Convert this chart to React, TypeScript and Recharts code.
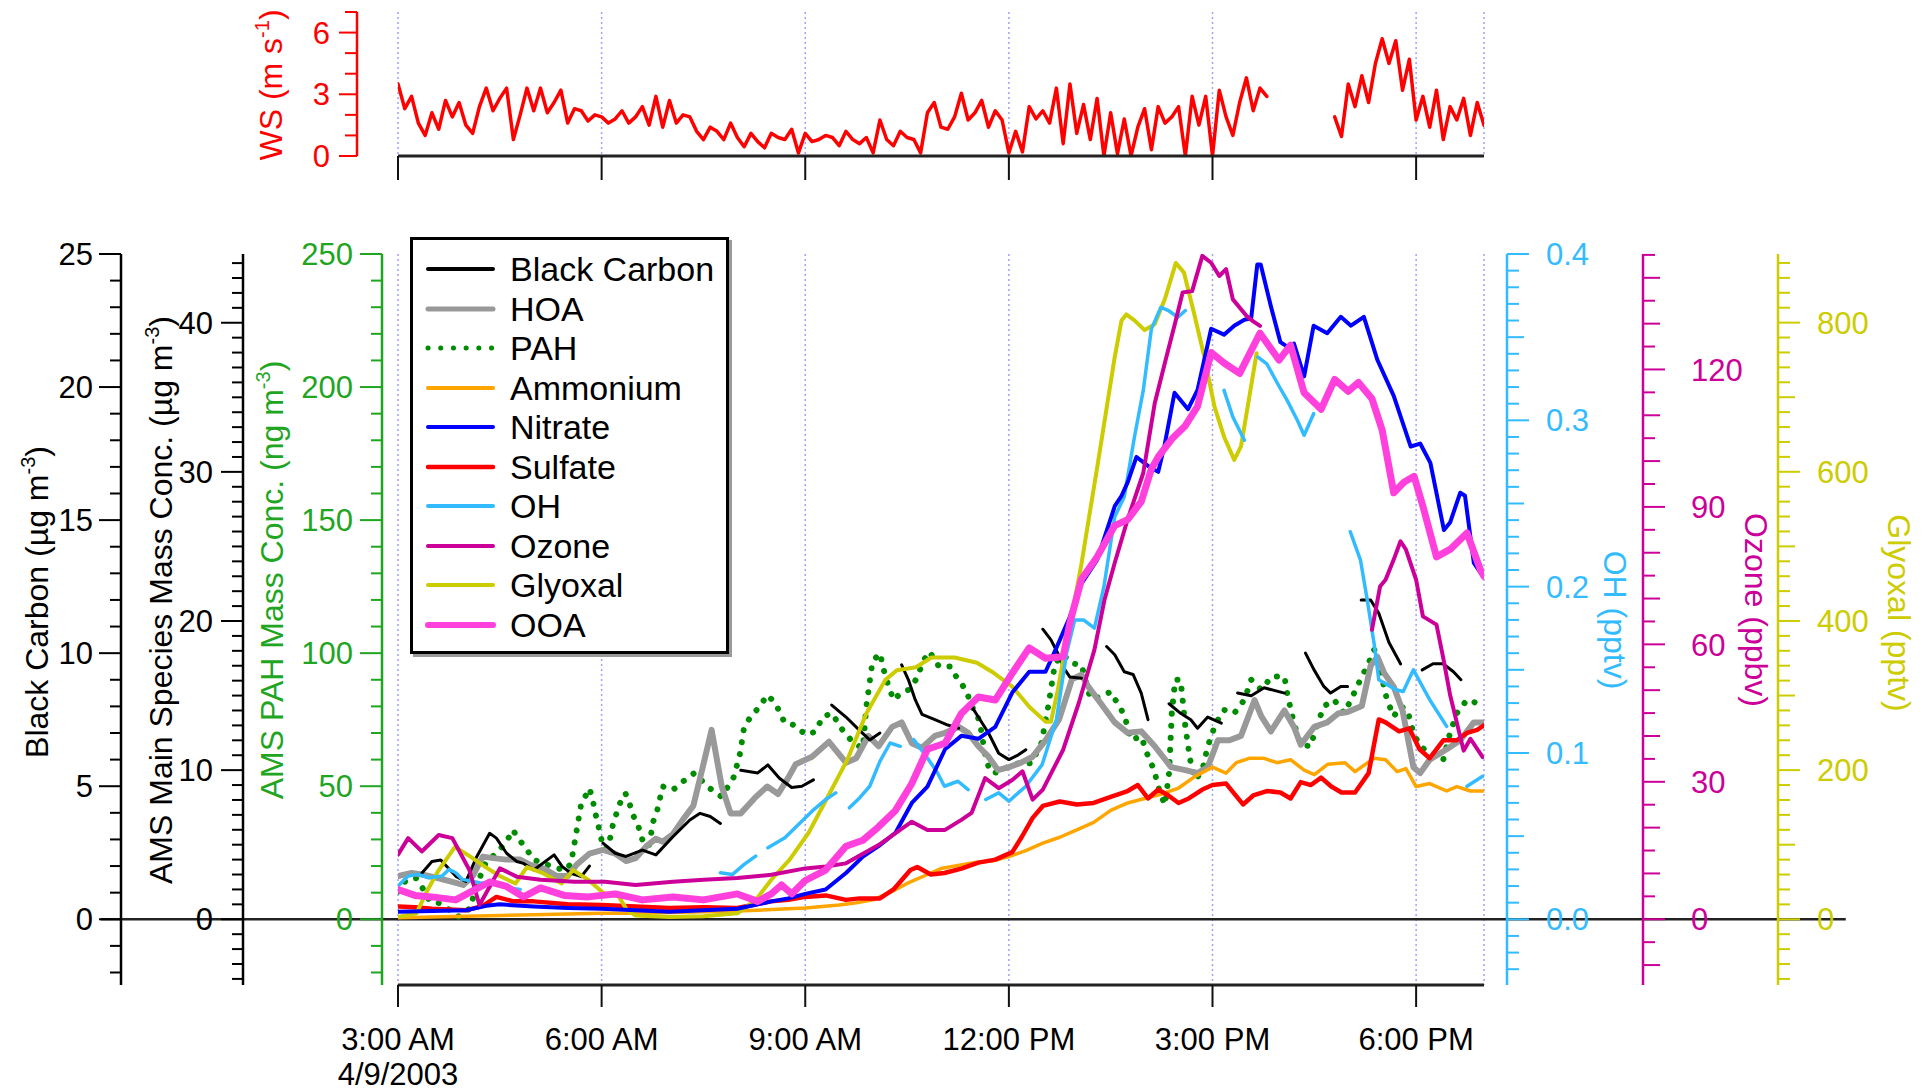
import React from "react";
import { LineChart, Line, XAxis, YAxis, CartesianGrid, ReferenceLine } from "recharts";

type Pt = [number, number | null];

const FONT = "'Liberation Sans', Arial, Helvetica, sans-serif";

// ---- time axis (decimal hours, 4/9/2003) ----
const hourTicks = [3, 6, 9, 12, 15, 18];
const hourLabels = ["3:00 AM", "6:00 AM", "9:00 AM", "12:00 PM", "3:00 PM", "6:00 PM"];
const dateLabel = "4/9/2003";

// ---- wind speed (m/s), 6-min samples starting 3:00 ----
const wsValues: (number | null)[] = [
  3.5, 2.3, 2.9, 1.6, 1.0, 2.1, 1.3, 2.7, 1.9, 2.6,
  1.5, 1.1, 2.4, 3.3, 2.2, 2.8, 3.3, 0.8, 2.0, 3.3,
  2.2, 3.3, 2.1, 2.6, 3.2, 1.6, 2.3, 2.2, 1.7, 2.0,
  1.9, 1.6, 1.8, 2.2, 1.6, 1.9, 2.4, 1.5, 2.9, 1.4,
  2.7, 1.6, 2.0, 1.9, 1.2, 0.8, 1.4, 1.2, 0.8, 1.6,
  0.9, 0.45, 1.1, 0.7, 0.4, 1.1, 0.9, 0.8, 1.3, 0.15,
  1.1, 0.7, 0.8, 1.0, 0.9, 0.5, 1.2, 0.8, 0.6, 0.9,
  0.15, 1.75, 0.8, 0.5, 1.2, 0.9, 0.8, 0.15, 2.1, 2.6,
  1.4, 1.3, 1.9, 3.05, 1.75, 2.1, 2.7, 1.4, 2.2, 1.75,
  0.15, 1.2, 0.2, 2.4, 1.8, 2.2, 1.6, 3.3, 0.6, 3.5,
  1.1, 2.5, 0.8, 2.8, 0.0, 2.1, 0.1, 1.8, 0.0, 1.4,
  2.3, 0.3, 2.4, 1.6, 1.9, 2.4, 0.0, 2.9, 1.5, 2.9,
  0.0, 3.2, 1.9, 1.0, 2.6, 3.8, 2.2, 3.3, 2.9, null,
  null, null, null, null, null, null, null, null, 1.9, 0.95,
  3.5, 2.4, 3.9, 2.6, 4.5, 5.7, 4.5, 5.6, 3.2, 4.7,
  1.75, 2.9, 1.4, 3.2, 0.8, 2.4, 1.75, 2.8, 1.0, 2.6,
  1.5,
];

// ---- main panel series: [hour, value], null = no data ----
const blackCarbon: Pt[] = [
  [3.35, 1.73], [3.5, 2.17], [3.63, 2.23], [3.75, 1.9], [3.86, 1.6], [4.0, 1.42], [4.15, 2.3], [4.35, 3.23],
  [4.45, 3.05], [4.6, 2.48], [4.75, 2.17], [4.85, 2.1], [5.0, 1.85], [5.3, 2.42], [5.42, 1.98], [5.55, 1.73],
  [5.7, 1.6], [5.82, 2.0], [5.92, null],
  [6.02, 2.86], [6.2, 2.48], [6.36, 2.36], [6.6, 2.6], [6.8, 2.42], [7.05, 3.1], [7.3, 3.73], [7.45, 3.98],
  [7.6, 3.86], [7.75, 3.6], [7.9, null],
  [8.05, 5.6], [8.3, 5.5], [8.45, 5.8], [8.62, 5.3], [8.8, 4.95], [8.95, 5.0], [9.12, 5.24], [9.25, null],
  [9.39, 8.05], [9.6, 7.6], [9.8, 7.1], [9.95, 6.74], [10.1, 7.0], [10.25, null],
  [10.42, 9.56], [10.52, 9.0], [10.62, 8.25], [10.72, 7.7], [10.91, 7.5], [11.1, 7.3], [11.26, 7.18], [11.35, null],
  [11.45, 8.0], [11.55, 7.6], [11.7, 7.0], [11.85, 6.24], [12.0, 6.0], [12.14, 6.18], [12.25, 6.37], [12.4, null],
  [12.5, 10.9], [12.62, 10.5], [12.72, 10.0], [12.82, 9.4], [12.9, 9.1], [13.07, 9.06], [13.25, null],
  [13.44, 10.25], [13.56, 9.94], [13.7, 9.3], [13.83, 9.2], [13.95, 8.5], [14.05, 7.5], [14.2, null],
  [14.36, 8.1], [14.53, 7.74], [14.68, 7.5], [14.78, 7.18], [14.93, 7.6], [15.13, 7.37], [15.25, null],
  [15.37, 8.5], [15.57, 8.4], [15.76, 8.7], [16.06, 8.5], [16.2, null],
  [16.37, 10.0], [16.49, 9.4], [16.64, 8.75], [16.74, 8.5], [16.89, 8.75], [16.99, 8.75], [17.1, null],
  [17.19, 12.0], [17.33, 12.0], [17.45, 11.5], [17.6, 10.4], [17.77, 9.6], [17.95, null],
  [18.09, 9.37], [18.25, 9.6], [18.4, 9.6], [18.55, 9.3], [18.66, 9.0],
];

const hoa: Pt[] = [
  [3, 2.9], [3.2, 3.1], [3.35, 3.0], [3.6, 2.75], [3.8, 2.5], [3.96, 2.3], [4.1, 2.9], [4.25, 4.2], [4.4, 4.1],
  [4.6, 4.0], [4.8, 4.0], [4.95, 3.65], [5.15, 3.4], [5.34, 2.9], [5.5, 2.9], [5.63, 3.65], [5.82, 4.4],
  [6.02, 4.65], [6.2, 4.4], [6.36, 3.9], [6.5, 4.1], [6.66, 4.9], [6.8, 5.4], [6.9, 5.2], [7.05, 5.7],
  [7.2, 6.7], [7.35, 7.6], [7.49, 10.2], [7.62, 12.7], [7.77, 8.9], [7.9, 7.1], [8.05, 7.1], [8.27, 8.2],
  [8.44, 8.9], [8.6, 8.4], [8.75, 9.5], [8.86, 10.4], [9.1, 10.9], [9.35, 11.9], [9.6, 10.5], [9.75, 10.8],
  [9.93, 12.3], [10.08, 11.6], [10.28, 12.9], [10.42, 13.2], [10.57, 11.8], [10.72, 11.5], [10.91, 12.3],
  [11.06, 12.5], [11.26, 12.9], [11.4, 12.5], [11.55, 11.6], [11.7, 10.9], [11.84, 10.0], [12.0, 10.2],
  [12.18, 10.5], [12.35, 10.9], [12.54, 12.0], [12.74, 13.4], [12.93, 16.1], [13.07, 16.4], [13.17, 15.6],
  [13.35, 14.5], [13.56, 13.2], [13.75, 12.5], [13.95, 12.6], [14.15, 11.6], [14.39, 10.2], [14.6, 10.0],
  [14.78, 9.8], [14.93, 10.2], [15.08, 12.0], [15.25, 12.0], [15.42, 12.3], [15.62, 14.7], [15.72, 13.6],
  [15.86, 12.6], [16.06, 14.0], [16.2, 12.9], [16.3, 11.7], [16.5, 12.9], [16.69, 13.2], [16.85, 13.8],
  [16.99, 13.9], [17.2, 14.3], [17.33, 17.0], [17.43, 17.6], [17.53, 16.5], [17.67, 15.6], [17.8, 14.0],
  [17.96, 10.2], [18.06, 9.8], [18.2, 10.7], [18.45, 11.4], [18.65, 12.0], [18.85, 13.2], [19, 13.2],
];

const pah: Pt[] = [
  [3.0, 10.4], [3.12, 14.8], [3.27, 15.4], [3.38, 11], [3.47, 6.6], [3.62, 6.0], [3.76, 3.5], [3.89, 1.0],
  [4.06, 4.1], [4.16, 12.9], [4.3, 21.7], [4.45, 24.8], [4.6, 29.2], [4.69, 33.6], [4.79, 29.8], [4.9, 26.1],
  [5.0, 22.3], [5.15, 21], [5.33, 19.2], [5.47, 18.5], [5.55, 21], [5.6, 28.6], [5.65, 36.1], [5.7, 43.6],
  [5.77, 46.7], [5.82, 49.2], [5.87, 44.9], [5.9, 40.5], [5.94, 36.7], [5.98, 31.7], [6.03, 26.7], [6.09, 26.7],
  [6.13, 31], [6.17, 36], [6.22, 39.8], [6.27, 43.6], [6.35, 47.4], [6.41, 43.6], [6.46, 39.2], [6.53, 36],
  [6.59, 30.5], [6.65, 27.3], [6.7, 28], [6.76, 36.7], [6.82, 41], [6.9, 49.9], [7.05, 48.6], [7.2, 51.8],
  [7.37, 55], [7.55, 50], [7.77, 46], [7.95, 53.6], [8.04, 62.4], [8.1, 72.4], [8.2, 76.2], [8.33, 80],
  [8.44, 84.3], [8.56, 81.2], [8.7, 73.7], [8.84, 73], [9.01, 69.3], [9.15, 70.5], [9.26, 76.2], [9.4, 77.4],
  [9.51, 72.4], [9.71, 66.2], [9.85, 64.3], [9.9, 80], [9.99, 96.8], [10.1, 100], [10.18, 91.2], [10.3, 82.4],
  [10.41, 85], [10.52, 86.2], [10.63, 90], [10.75, 97.5], [10.83, 100.6], [10.97, 95], [11.14, 95], [11.25, 90],
  [11.37, 86.2], [11.45, 80], [11.53, 77.4], [11.59, 71.2], [11.65, 62], [11.72, 55.5], [11.84, 55],
  [11.99, 57.4], [12.14, 58.6], [12.33, 58.6], [12.48, 66.2], [12.58, 80], [12.68, 96.2], [12.8, 99.5],
  [12.92, 96.2], [13.07, 95.6], [13.2, 83], [13.36, 83.7], [13.5, 85.5], [13.7, 76.8], [13.8, 67.4],
  [13.95, 68.7], [14.04, 62], [14.14, 56], [14.22, 48], [14.3, 43], [14.36, 55], [14.4, 77.4], [14.45, 90],
  [14.53, 90], [14.6, 72.4], [14.67, 60], [14.75, 52.4], [14.85, 56], [14.93, 65], [15.05, 73.7], [15.17, 78.7],
  [15.32, 77.4], [15.47, 82.5], [15.57, 90], [15.72, 86.2], [15.87, 91.2], [16.06, 91.2], [16.11, 83.7],
  [16.2, 73.7], [16.3, 65.5], [16.45, 65], [16.5, 70], [16.64, 80], [16.79, 82.5], [16.94, 77.4], [17.04, 82.5],
  [17.2, 91.2], [17.3, 96.2], [17.38, 101.3], [17.43, 100], [17.47, 93.7], [17.57, 82.5], [17.67, 76.2],
  [17.77, 80], [17.87, 78.7], [17.96, 70], [18.06, 65], [18.2, 62.4], [18.3, 60], [18.4, 60], [18.5, 70],
  [18.6, 77.4], [18.75, 82.5], [18.9, 81.2], [18.98, 82.5],
];

const ammonium: Pt[] = [
  [3, 0.1], [3.5, 0.15], [4, 0.2], [4.5, 0.25], [5, 0.3], [5.5, 0.35], [6, 0.4], [6.5, 0.4], [7, 0.45],
  [7.5, 0.5], [8, 0.55], [8.5, 0.65], [9, 0.75], [9.25, 0.85], [9.5, 0.95], [9.75, 1.1], [10, 1.3],
  [10.25, 1.8], [10.5, 2.4], [10.75, 2.9], [11, 3.4], [11.25, 3.6], [11.5, 3.8], [11.75, 3.9], [12, 4.2],
  [12.25, 4.6], [12.5, 5.1], [12.75, 5.5], [13, 6.0], [13.25, 6.5], [13.5, 7.3], [13.75, 7.8], [14, 8.1],
  [14.25, 8.4], [14.5, 8.8], [14.75, 9.6], [15, 10.2], [15.2, 9.8], [15.35, 10.5], [15.55, 10.8],
  [15.75, 10.8], [15.95, 10.5], [16.15, 10.7], [16.35, 10.0], [16.5, 9.7], [16.7, 10.4], [16.95, 10.5],
  [17.1, 9.9], [17.38, 10.8], [17.55, 10.7], [17.72, 9.9], [17.85, 10.1], [18, 8.9], [18.2, 9.1],
  [18.45, 8.6], [18.6, 8.9], [18.8, 8.6], [19, 8.6],
];

const nitrate: Pt[] = [
  [3, 0.5], [3.5, 0.55], [4, 0.6], [4.3, 0.9], [4.5, 1.0], [5, 0.85], [5.5, 0.75], [6, 0.7], [6.5, 0.6],
  [7, 0.5], [7.5, 0.6], [8, 0.7], [8.5, 1.2], [8.75, 1.4], [9, 1.7], [9.3, 2.0], [9.6, 3.1], [9.85, 4.2],
  [10.08, 4.9], [10.33, 5.8], [10.57, 7.8], [10.8, 8.9], [11.06, 11.4], [11.3, 12.3], [11.55, 12.1],
  [11.8, 12.9], [12.05, 15.2], [12.3, 16.6], [12.54, 16.6], [12.7, 18.2], [12.9, 20.3], [13.07, 22.5],
  [13.3, 24.1], [13.56, 27.7], [13.66, 28.4], [13.75, 29.3], [13.88, 31.0], [14.05, 30.4], [14.2, 30.0],
  [14.29, 31.7], [14.44, 35.3], [14.64, 34.2], [14.78, 35.5], [14.98, 39.6], [15.17, 39.2], [15.32, 39.8],
  [15.47, 40.2], [15.57, 40.3], [15.66, 43.9], [15.71, 43.9], [15.86, 41.1], [16.0, 38.7], [16.1, 38.4],
  [16.2, 38.6], [16.35, 36.4], [16.49, 39.8], [16.69, 39.3], [16.89, 40.4], [17.04, 39.8], [17.23, 40.4],
  [17.43, 37.5], [17.67, 35.1], [17.92, 31.7], [18.06, 31.9], [18.21, 30.6], [18.41, 26.1], [18.5, 26.6],
  [18.65, 28.6], [18.72, 28.4], [18.85, 23.9], [18.97, 23.1],
];

const sulfate: Pt[] = [
  [3, 0.85], [3.25, 0.8], [3.5, 0.7], [3.75, 0.65], [4, 0.6], [4.25, 0.9], [4.45, 1.5], [4.7, 1.2], [5, 1.2],
  [5.5, 1.0], [6, 0.95], [6.5, 0.85], [7, 0.75], [7.5, 0.8], [8, 0.75], [8.5, 1.2], [8.75, 1.3], [9, 1.5],
  [9.3, 1.6], [9.6, 1.3], [9.8, 1.4], [10.1, 1.4], [10.3, 2.0], [10.55, 3.3], [10.65, 3.5], [10.85, 3.0],
  [11.05, 3.1], [11.3, 3.4], [11.55, 3.8], [11.8, 4.0], [12.05, 4.5], [12.2, 5.6], [12.35, 6.8], [12.5, 7.6],
  [12.75, 7.9], [13.0, 7.7], [13.25, 7.8], [13.5, 8.2], [13.75, 8.6], [13.9, 9.0], [14.05, 8.1], [14.2, 8.7],
  [14.35, 8.3], [14.5, 7.8], [14.65, 8.1], [14.85, 8.7], [15.0, 9.0], [15.2, 9.1], [15.45, 7.7], [15.6, 8.3],
  [15.8, 8.6], [16.0, 8.5], [16.15, 8.1], [16.3, 9.2], [16.45, 9.0], [16.6, 9.5], [16.75, 8.9], [16.9, 8.5],
  [17.1, 8.5], [17.3, 9.8], [17.45, 13.4], [17.55, 13.2], [17.75, 12.6], [17.9, 12.8], [18.05, 11.4],
  [18.2, 10.8], [18.4, 12.0], [18.6, 12.0], [18.75, 12.5], [18.9, 12.7], [19, 13.0],
];

const oh: Pt[] = [
  [3.0, 0.02], [3.15, 0.026], [3.3, 0.027], [3.45, 0.025], [3.65, 0.026], [3.75, 0.03], [3.85, 0.028],
  [3.95, 0.024], [4.2, 0.022], [4.45, 0.021], [4.6, 0.019], [4.8, 0.018], [4.9, null],
  [7.75, 0.028], [7.93, 0.027], [8.1, 0.033], [8.27, 0.038], [8.35, null],
  [8.45, 0.043], [8.7, 0.049], [8.9, 0.057], [9.1, 0.065], [9.3, 0.072], [9.45, 0.076], [9.55, null],
  [9.65, 0.067], [9.8, 0.073], [9.95, 0.08], [10.1, 0.095], [10.25, 0.106], [10.4, 0.104], [10.5, null],
  [10.6, 0.108], [10.8, 0.097], [10.95, 0.088], [11.05, 0.08], [11.25, 0.083], [11.4, 0.078], [11.55, null],
  [11.66, 0.072], [11.85, 0.076], [12.0, 0.071], [12.25, 0.08], [12.49, 0.093], [12.7, 0.12], [12.85, 0.16],
  [12.97, 0.18], [13.1, 0.18], [13.26, 0.175], [13.4, 0.2], [13.56, 0.242], [13.7, 0.254], [13.85, 0.29],
  [13.98, 0.318], [14.1, 0.355], [14.24, 0.368], [14.35, 0.366], [14.49, 0.362], [14.6, 0.366], [14.75, null],
  [15.17, 0.318], [15.3, 0.302], [15.47, 0.288], [15.55, null],
  [15.67, 0.338], [15.8, 0.334], [15.96, 0.322], [16.1, 0.312], [16.25, 0.3], [16.35, 0.291], [16.49, 0.304],
  [16.7, null],
  [17.03, 0.233], [17.18, 0.216], [17.28, 0.192], [17.38, 0.166], [17.45, 0.144], [17.7, 0.138], [17.81, 0.137],
  [17.96, 0.15], [18.2, 0.132], [18.45, 0.116], [18.6, null],
  [18.75, 0.08], [18.98, 0.086],
];

const ozone: Pt[] = [
  [3, 14.1], [3.15, 17.7], [3.35, 14.8], [3.6, 18.4], [3.8, 17.7], [4.05, 10.8], [4.2, 3.1], [4.35, 7.1],
  [4.5, 11.1], [4.75, 9.3], [5.1, 8.6], [5.6, 8.2], [6.05, 8.2], [6.5, 7.5], [7.05, 8.2], [7.5, 8.6], [8.0, 9.0],
  [8.5, 9.7], [9.0, 11.1], [9.3, 11.5], [9.6, 12.2], [10.08, 16.2], [10.57, 21.3], [10.8, 19.5], [11.06, 19.5],
  [11.3, 21.7], [11.45, 23.2], [11.65, 30.8], [11.85, 28.6], [12.05, 30.4], [12.2, 32.3], [12.35, 26.1],
  [12.5, 28.3], [12.8, 37.0], [13.03, 47.2], [13.26, 58.8], [13.41, 69.8], [13.56, 77.8], [13.75, 87.3],
  [13.98, 97.4], [14.15, 112.7], [14.3, 121.5], [14.45, 130.2], [14.56, 136.8], [14.7, 137.1], [14.85, 144.8],
  [14.98, 143.3], [15.1, 140.4], [15.2, 141.9], [15.3, 135.3], [15.5, 131.7], [15.6, 130.5], [15.7, 129.5],
  [15.75, null],
  [17.35, 63.2], [17.47, 72.7], [17.55, 74.1], [17.67, 78.5], [17.77, 82.5], [17.85, 80.7], [18.0, 74.1],
  [18.1, 66.1], [18.3, 64.3], [18.4, 57], [18.5, 49], [18.7, 36.8], [18.8, 39.4], [18.98, 35.4],
];

const glyoxal: Pt[] = [
  [3, 3], [3.27, 8], [3.44, 40], [3.6, 66], [3.84, 97], [4.05, 85], [4.29, 70], [4.5, 58], [4.73, 48],
  [4.9, 70], [5.13, 62], [5.41, 48], [5.58, 66], [5.8, 53], [6.03, 35], [6.25, 31], [6.37, 13], [6.5, 5],
  [7.0, 3], [7.5, 4], [8.0, 8], [8.27, 26], [8.5, 53], [8.77, 80], [9.05, 116], [9.33, 164], [9.62, 214],
  [9.9, 276], [10.18, 321], [10.35, 334], [10.63, 338], [10.86, 351], [11.2, 351], [11.53, 344], [11.75, 332],
  [12.05, 312], [12.3, 285], [12.54, 265], [12.62, 265], [12.72, 307], [12.87, 384], [12.97, 428],
  [13.07, 477], [13.31, 611], [13.56, 754], [13.66, 803], [13.73, 811], [13.85, 803], [14.0, 790],
  [14.15, 798], [14.3, 832], [14.46, 880], [14.58, 867], [14.73, 812], [14.88, 754], [15.03, 687],
  [15.17, 647], [15.32, 616], [15.42, 634], [15.56, 710], [15.65, 759],
];

const ooa: Pt[] = [
  [3, 2.0], [3.25, 1.6], [3.5, 1.5], [3.85, 1.3], [4.1, 1.9], [4.35, 2.5], [4.6, 2.2], [4.85, 1.5], [5.1, 2.1],
  [5.45, 1.6], [5.8, 1.5], [6.2, 1.7], [6.6, 1.3], [7.05, 1.5], [7.5, 1.3], [8.0, 1.7], [8.3, 1.2], [8.5, 1.7],
  [8.65, 2.3], [8.8, 1.7], [9.0, 2.6], [9.3, 3.3], [9.6, 4.9], [9.85, 5.3], [10.08, 6.2], [10.33, 7.3],
  [10.57, 9.1], [10.8, 11.4], [11.06, 11.8], [11.3, 13.8], [11.55, 14.9], [11.8, 14.7], [12.05, 16.5],
  [12.3, 18.2], [12.54, 17.5], [12.8, 17.6], [12.9, 19.9], [13.07, 22.8], [13.3, 24.3], [13.56, 26.4],
  [13.75, 26.8], [13.95, 28.0], [14.1, 30.2], [14.2, 31.0], [14.4, 32.2], [14.6, 33.1], [14.78, 34.4],
  [14.98, 38.0], [15.17, 37.3], [15.4, 36.6], [15.7, 39.3], [15.98, 37.5], [16.15, 38.5], [16.35, 35.3],
  [16.6, 34.2], [16.8, 36.2], [17.0, 35.4], [17.15, 36.0], [17.35, 34.9], [17.5, 32.8], [17.67, 28.6],
  [17.82, 29.3], [17.97, 29.7], [18.1, 27.7], [18.3, 24.3], [18.5, 24.8], [18.75, 25.9], [18.95, 23.4], [19, 23.0],
];

// ---- axis ranges ----
const bcDomain = [-2.47, 25];
const amsDomain = [-4.408, 44.61];
const pahDomain = [-24.7, 250];
const ohDomain = [-0.0395, 0.4];
const ozoneDomain = [-14.35, 145.2];
const glyoxalDomain = [-88.1, 892];

const toRows = (pts: Pt[]) => pts.map(([t, v]) => ({ t, v }));
const wsRows = wsValues.map((v, i) => ({ t: 3 + i * 0.1, v }));

const steps = (a: number, b: number, s: number) => {
  const out: number[] = [];
  for (let i = 0; a + i * s <= b + 1e-9; i++) out.push(+(a + i * s).toFixed(4));
  return out;
};

// y-axis ids: recharts stacks same-side axes in id order, first one next to the plot
const AX = {
  padL: "L1pad",
  pah: "L2pah",
  ams: "L3ams",
  bc: "L4bc",
  padR: "R1pad",
  oh: "R2oh",
  ozone: "R3ozone",
  glyoxal: "R4glyoxal",
  wsPad: "A1pad",
  ws: "A2ws",
};

const COLORS = {
  bc: "#000000",
  hoa: "#999999",
  pah: "#008c00",
  pahAxis: "#1fa51f",
  ammonium: "#ffa500",
  nitrate: "#0000ff",
  sulfate: "#ff0000",
  oh: "#33bbff",
  ozone: "#cc0099",
  glyoxal: "#cccc00",
  ooa: "#ff40dc",
  ws: "#ff0000",
  grid: "#a0a0ff",
};

const legendItems = [
  { name: "Black Carbon", color: COLORS.bc, lw: 4 },
  { name: "HOA", color: COLORS.hoa, lw: 5 },
  { name: "PAH", color: COLORS.pah, lw: 5, dash: "0.1 12.6" },
  { name: "Ammonium", color: COLORS.ammonium, lw: 4 },
  { name: "Nitrate", color: COLORS.nitrate, lw: 4 },
  { name: "Sulfate", color: COLORS.sulfate, lw: 4.5 },
  { name: "OH", color: COLORS.oh, lw: 4 },
  { name: "Ozone", color: COLORS.ozone, lw: 4 },
  { name: "Glyoxal", color: COLORS.glyoxal, lw: 4 },
  { name: "OOA", color: COLORS.ooa, lw: 6 },
];

// ---- ticks ----
type TickStyle = {
  side: "left" | "right";
  color: string;
  text: string;
  len: (v: number) => number;
  major: (v: number) => boolean;
  gap: number;
  fmt?: (v: number) => string;
};

const makeTick = (s: TickStyle) => (p: any) => {
  const v = p.payload.value as number;
  const dir = s.side === "left" ? -1 : 1;
  return (
    <g>
      <line x1={p.x} y1={p.y} x2={p.x + dir * s.len(v)} y2={p.y} stroke={s.color} strokeWidth={2} />
      {s.major(v) && (
        <text
          x={p.x + dir * s.gap}
          y={p.y}
          dy="0.36em"
          textAnchor={s.side === "left" ? "end" : "start"}
          fontSize={31}
          fontFamily={FONT}
          fill={s.text}
        >
          {s.fmt ? s.fmt(v) : String(v)}
        </text>
      )}
    </g>
  );
};

const isMul = (v: number, m: number) => Math.abs(Math.round(v / m) * m - v) < 1e-6;

const bcTick = makeTick({ side: "left", color: "#000", text: "#000", gap: 28, major: (v) => isMul(v, 5), len: (v) => (isMul(v, 5) ? 22 : 11) });
const amsTick = makeTick({ side: "left", color: "#000", text: "#000", gap: 30, major: (v) => isMul(v, 10), len: (v) => (isMul(v, 10) ? 22 : 11) });
const pahTick = makeTick({ side: "left", color: COLORS.pahAxis, text: COLORS.pahAxis, gap: 29, major: (v) => isMul(v, 50), len: (v) => (isMul(v, 50) ? 22 : 11) });
const ohTick = makeTick({
  side: "right", color: COLORS.oh, text: COLORS.oh, gap: 39, major: (v) => isMul(v, 0.1),
  len: (v) => (isMul(v, 0.1) ? 22 : isMul(v, 0.05) ? 17 : 12), fmt: (v) => v.toFixed(1),
});
const ozoneTick = makeTick({
  side: "right", color: COLORS.ozone, text: COLORS.ozone, gap: 48, major: (v) => isMul(v, 30),
  len: (v) => (isMul(v, 30) ? 22 : isMul(v, 10) ? 17 : 12),
});
const glyoxalTick = makeTick({
  side: "right", color: COLORS.glyoxal, text: COLORS.glyoxal, gap: 39, major: (v) => isMul(v, 200),
  len: (v) => (isMul(v, 200) ? 22 : isMul(v, 100) ? 17 : 12),
});
const wsTick = makeTick({ side: "left", color: COLORS.ws, text: COLORS.ws, gap: 27, major: (v) => isMul(v, 3), len: (v) => (isMul(v, 3) ? 18 : 12) });

const TimeTick = (p: any) => {
  const i = hourTicks.indexOf(p.payload.value);
  return (
    <g>
      <line x1={p.x} x2={p.x} y1={p.y} y2={p.y + 22} stroke="#111" strokeWidth={2} />
      <text x={p.x} y={p.y + 65} textAnchor="middle" fontSize={31} fontFamily={FONT} fill="#000">
        {hourLabels[i]}
      </text>
      {i === 0 && (
        <text x={p.x} y={p.y + 100} textAnchor="middle" fontSize={31} fontFamily={FONT} fill="#000">
          {dateLabel}
        </text>
      )}
    </g>
  );
};

const WsTimeTick = (p: any) => (
  <line x1={p.x} x2={p.x} y1={p.y} y2={p.y + 24} stroke="#111" strokeWidth={2} />
);

// rotated axis title; dx measured from the axis line, cy absolute
const axisTitle = (main: string, sup: string, tail: string, color: string, dx: number, cy: number, rot: number) =>
  (props: any) => {
    const vb = props.viewBox;
    const x = rot < 0 ? vb.x + vb.width - dx : vb.x + dx;
    return (
      <text
        x={x}
        y={cy}
        transform={`rotate(${rot} ${x} ${cy})`}
        textAnchor="middle"
        fontSize={32}
        fontFamily={FONT}
        fill={color}
      >
        {main}
        {sup && (
          <tspan dy={-13} fontSize={20}>
            {sup}
          </tspan>
        )}
        <tspan dy={sup ? 13 : 0}>{tail}</tspan>
      </text>
    );
  };

const hidden = { tick: false as const, tickLine: false, axisLine: false };

const lineProps = {
  dataKey: "v",
  dot: false,
  activeDot: false,
  isAnimationActive: false,
  connectNulls: false,
  strokeLinejoin: "round" as const,
  strokeLinecap: "round" as const,
};

const Legend = () => (
  <div
    style={{
      position: "absolute",
      left: 410,
      top: 237,
      width: 319,
      height: 417,
      border: "3px solid #000",
      boxSizing: "border-box",
      background: "#fff",
      boxShadow: "3px 3px 0 #9a9a9a",
    }}
  >
    {legendItems.map((it, i) => (
      <div
        key={it.name}
        style={{ position: "absolute", left: 12, top: 9 + i * 39.5, height: 40, display: "flex", alignItems: "center" }}
      >
        <svg width={72} height={12}>
          <line
            x1={3}
            x2={68}
            y1={6}
            y2={6}
            stroke={it.color}
            strokeWidth={it.lw}
            strokeDasharray={it.dash}
            strokeLinecap="round"
          />
        </svg>
        <span style={{ marginLeft: 13, fontFamily: FONT, fontSize: 34, lineHeight: "40px", color: "#000", whiteSpace: "nowrap" }}>
          {it.name}
        </span>
      </div>
    ))}
  </div>
);

export default function App() {
  return (
    <div style={{ position: "absolute", left: 0, top: 0, width: 1931, height: 1092, background: "#fff", overflow: "hidden" }}>
      {/* main panel */}
      <div style={{ position: "absolute", left: 0, top: 0 }}>
        <LineChart width={1931} height={1092} margin={{ top: 254, right: 0, bottom: 0, left: 0 }}>
          <CartesianGrid yAxisId={AX.bc} horizontal={false} stroke={COLORS.grid} strokeDasharray="2 3" strokeWidth={1.5} />
          <XAxis
            type="number"
            dataKey="t"
            domain={[3, 19]}
            allowDataOverflow
            ticks={hourTicks}
            interval={0}
            height={107}
            tickSize={0}
            tickMargin={0}
            tickLine={false}
            axisLine={{ stroke: "#222", strokeWidth: 3 }}
            tick={TimeTick}
          />
          <YAxis yAxisId={AX.padL} width={16} domain={[0, 1]} {...hidden} />
          <YAxis
            yAxisId={AX.pah}
            width={139}
            domain={pahDomain}
            allowDataOverflow
            ticks={steps(-20, 250, 10)}
            interval={0}
            tickSize={0}
            tickMargin={0}
            tickLine={false}
            axisLine={{ stroke: COLORS.pahAxis, strokeWidth: 2.5 }}
            tick={pahTick}
            label={{ content: axisTitle("AMS PAH Mass Conc. (ng m", "-3", ")", COLORS.pahAxis, 99, 580, -90) }}
          />
          <YAxis
            yAxisId={AX.ams}
            width={122}
            domain={amsDomain}
            allowDataOverflow
            ticks={steps(-4, 44, 1)}
            interval={0}
            tickSize={0}
            tickMargin={0}
            tickLine={false}
            axisLine={{ stroke: "#000", strokeWidth: 2.5 }}
            tick={amsTick}
            label={{ content: axisTitle("AMS Main Species Mass Conc. (µg m", "-3", ")", "#000", 71, 600, -90) }}
          />
          <YAxis
            yAxisId={AX.bc}
            width={121}
            domain={bcDomain}
            allowDataOverflow
            ticks={steps(-2, 25, 1)}
            interval={0}
            tickSize={0}
            tickMargin={0}
            tickLine={false}
            axisLine={{ stroke: "#000", strokeWidth: 2.5 }}
            tick={bcTick}
            label={{ content: axisTitle("Black Carbon (µg m", "-3", ")", "#000", 73, 602, -90) }}
          />
          <YAxis yAxisId={AX.padR} orientation="right" width={23} domain={[0, 1]} {...hidden} />
          <YAxis
            yAxisId={AX.oh}
            orientation="right"
            width={136}
            domain={ohDomain}
            allowDataOverflow
            ticks={steps(-0.03, 0.4, 0.01)}
            interval={0}
            tickSize={0}
            tickMargin={0}
            tickLine={false}
            axisLine={{ stroke: COLORS.oh, strokeWidth: 2.5 }}
            tick={ohTick}
            label={{ content: axisTitle("OH (pptv)", "", "", COLORS.oh, 97, 620, 90) }}
          />
          <YAxis
            yAxisId={AX.ozone}
            orientation="right"
            width={135}
            domain={ozoneDomain}
            allowDataOverflow
            ticks={steps(-10, 145, 5)}
            interval={0}
            tickSize={0}
            tickMargin={0}
            tickLine={false}
            axisLine={{ stroke: COLORS.ozone, strokeWidth: 2.5 }}
            tick={ozoneTick}
            label={{ content: axisTitle("Ozone (ppbv)", "", "", COLORS.ozone, 102, 610, 90) }}
          />
          <YAxis
            yAxisId={AX.glyoxal}
            orientation="right"
            width={153}
            domain={glyoxalDomain}
            allowDataOverflow
            ticks={steps(-80, 880, 20)}
            interval={0}
            tickSize={0}
            tickMargin={0}
            tickLine={false}
            axisLine={{ stroke: COLORS.glyoxal, strokeWidth: 2.5 }}
            tick={glyoxalTick}
            label={{ content: axisTitle("Glyoxal (pptv)", "", "", COLORS.glyoxal, 110, 613, 90) }}
          />

          {/* zero line running across all axes */}
          <ReferenceLine
            yAxisId={AX.bc}
            segment={[{ x: -1.38, y: 0 }, { x: 24.33, y: 0 }]}
            ifOverflow="visible"
            stroke="#222"
            strokeWidth={2.5}
          />

          <Line {...lineProps} yAxisId={AX.pah} data={toRows(pah)} stroke={COLORS.pah} strokeWidth={6} strokeDasharray="0.1 12" />
          <Line {...lineProps} yAxisId={AX.ams} data={toRows(hoa)} stroke={COLORS.hoa} strokeWidth={6} />
          <Line {...lineProps} yAxisId={AX.bc} data={toRows(blackCarbon)} stroke={COLORS.bc} strokeWidth={3} />
          <Line {...lineProps} yAxisId={AX.ams} data={toRows(ammonium)} stroke={COLORS.ammonium} strokeWidth={3.5} />
          <Line {...lineProps} yAxisId={AX.ams} data={toRows(sulfate)} stroke={COLORS.sulfate} strokeWidth={4.5} />
          <Line {...lineProps} yAxisId={AX.glyoxal} data={toRows(glyoxal)} stroke={COLORS.glyoxal} strokeWidth={4} />
          <Line {...lineProps} yAxisId={AX.oh} data={toRows(oh)} stroke={COLORS.oh} strokeWidth={3.5} />
          <Line {...lineProps} yAxisId={AX.ams} data={toRows(nitrate)} stroke={COLORS.nitrate} strokeWidth={4} />
          <Line {...lineProps} yAxisId={AX.ozone} data={toRows(ozone)} stroke={COLORS.ozone} strokeWidth={4} />
          <Line {...lineProps} yAxisId={AX.ams} data={toRows(ooa)} stroke={COLORS.ooa} strokeWidth={7} />
        </LineChart>
      </div>

      {/* wind speed panel */}
      <div style={{ position: "absolute", left: 0, top: 0 }}>
        <LineChart width={1931} height={190} margin={{ top: 12, right: 447, bottom: 0, left: 0 }}>
          <CartesianGrid yAxisId={AX.ws} horizontal={false} stroke={COLORS.grid} strokeDasharray="2 3" strokeWidth={1.5} />
          <XAxis
            type="number"
            dataKey="t"
            domain={[3, 19]}
            allowDataOverflow
            ticks={hourTicks}
            interval={0}
            height={34}
            tickSize={0}
            tickMargin={0}
            tickLine={false}
            axisLine={{ stroke: "#222", strokeWidth: 3 }}
            tick={WsTimeTick}
          />
          <YAxis yAxisId={AX.wsPad} width={41} domain={[0, 1]} {...hidden} />
          <YAxis
            yAxisId={AX.ws}
            width={357}
            domain={[0, 7]}
            allowDataOverflow
            ticks={steps(0, 7, 1)}
            interval={0}
            tickSize={0}
            tickMargin={0}
            tickLine={false}
            axisLine={{ stroke: COLORS.ws, strokeWidth: 2.5 }}
            tick={wsTick}
            label={{ content: axisTitle("WS (m s", "-1", ")", COLORS.ws, 75, 85, -90) }}
          />
          <Line {...lineProps} yAxisId={AX.ws} data={wsRows} stroke={COLORS.ws} strokeWidth={3.5} />
        </LineChart>
      </div>

      <Legend />
    </div>
  );
}
